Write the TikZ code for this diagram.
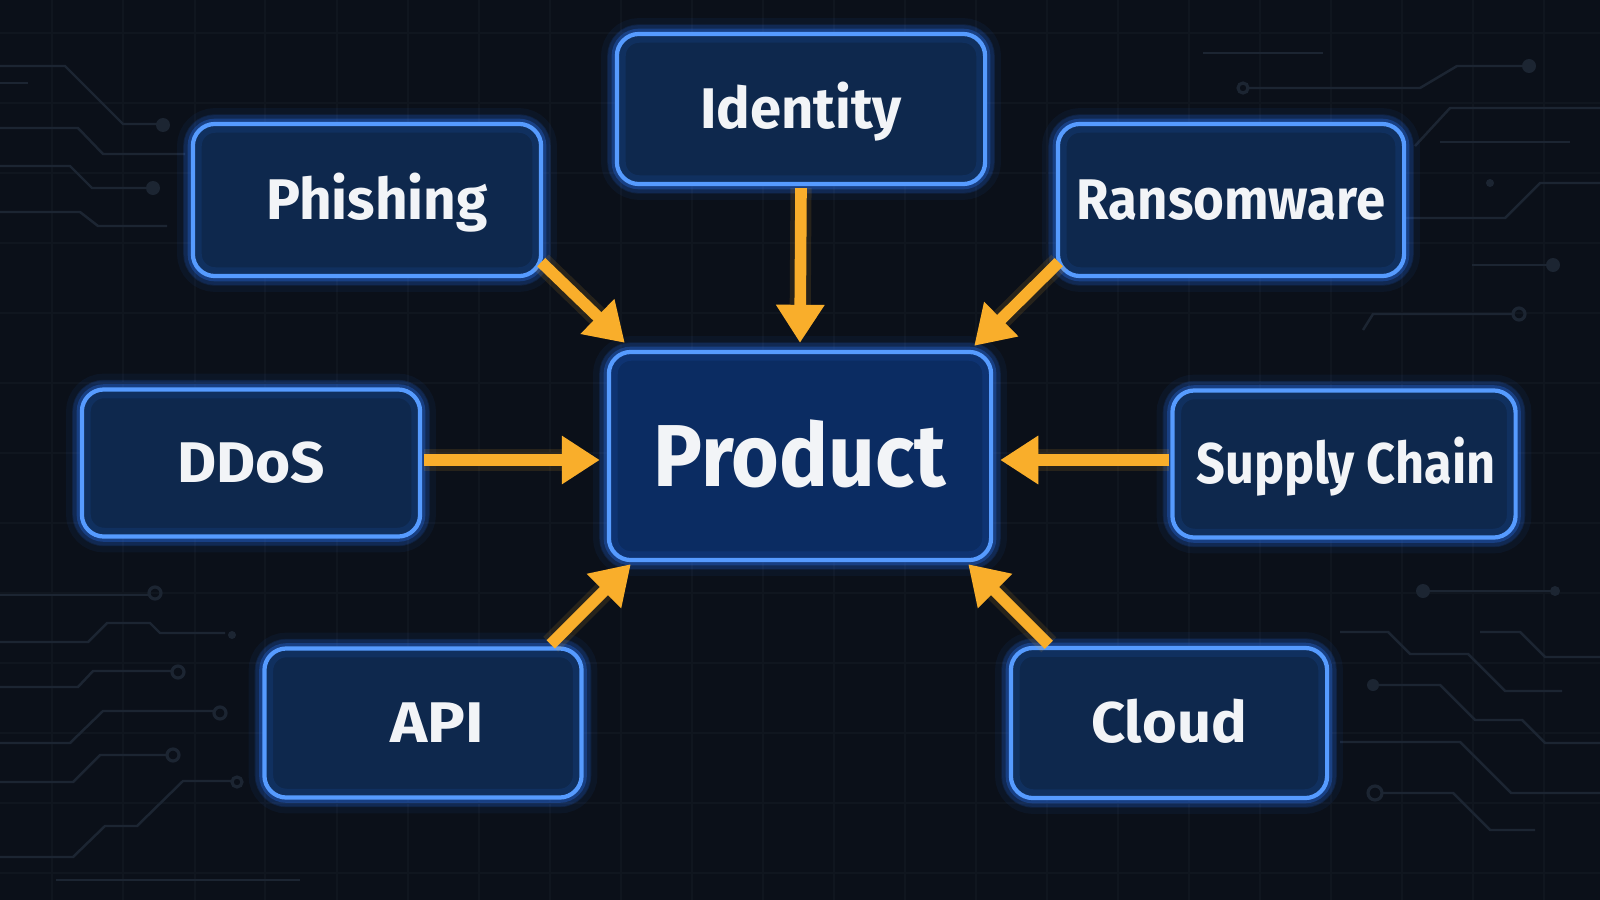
\documentclass[tikz,border=0pt]{standalone}
\usepackage{fontspec}
\usepackage{graphicx}
\setmainfont{Fira Sans}
\usetikzlibrary{arrows.meta,calc}
\definecolor{bgcol}{HTML}{0B1019}
\definecolor{gridcol}{HTML}{10161F}
\definecolor{tracecol}{HTML}{1C2532}
\definecolor{boxfill}{HTML}{0E284D}
\definecolor{prodfill}{HTML}{0B2C62}
\definecolor{boxline}{HTML}{5CA0FF}
\definecolor{glowcol}{HTML}{2A78FF}
\definecolor{arrcol}{HTML}{F9AE2B}
\definecolor{txtcol}{HTML}{F2F4F7}
\newcommand\lbl[2]{\scalebox{#1}[1]{#2}}
\tikzset{
  threatbox/.style={rectangle, rounded corners=0.22cm, fill=boxfill, draw=boxline,
    line width=1.2pt, text=txtcol, font=\fontsize{16.3}{19}\selectfont\bfseries,
    inner sep=0pt, text height=11.2pt, text depth=0pt,
    preaction={draw=glowcol, draw opacity=0.06, line width=9pt},
    preaction={draw=glowcol, draw opacity=0.12, line width=5.5pt},
    preaction={draw=glowcol, draw opacity=0.28, line width=3pt},
    postaction={draw=glowcol, draw opacity=0.10, line width=5pt}},
  centerbox/.style={threatbox, fill=prodfill, font=\fontsize{25}{29}\selectfont\bfseries,
    text height=17.2pt},
  attack/.style={draw=arrcol, line width=3.3pt,
    -{Triangle[length=0.38cm,width=0.46cm]}, fill=arrcol,
    preaction={draw=arrcol, draw opacity=0.12, line width=6pt, -{Triangle[length=0.38cm,width=0.46cm]}}},
  trace/.style={draw=tracecol, line width=0.7pt},
  tdot/.style={fill=tracecol},
  tring/.style={draw=tracecol, line width=0.9pt}
}
\begin{document}
\begin{tikzpicture}[x=0.01cm,y=-0.01cm]
\useasboundingbox (0,0) rectangle (1600,900);
\fill[bgcol] (0,0) rectangle (1600,900);
% faint grid
\foreach \gx in {52,123,195,265,337,408,479,550,621,692,763,834,905,976,1047,1118,1189,1260,1331,1402,1473,1544}
  \draw[gridcol, line width=0.4pt] (\gx,0) -- (\gx,900);
\foreach \gy in {33,103,173,243,313,383,453,523,593,663,733,803,873}
  \draw[gridcol, line width=0.4pt] (0,\gy) -- (1600,\gy);
% circuit traces left
\draw[trace] (0,66) -- (65,66) -- (123,124) -- (157,124);
\fill[tdot] (163,125) circle (7);
\draw[trace] (0,83) -- (28,83);
\draw[trace] (0,128) -- (78,128) -- (103,154) -- (185,154);
\draw[trace] (0,166) -- (70,166) -- (92,188) -- (146,188);
\fill[tdot] (153,188) circle (7);
\draw[trace] (0,212) -- (80,212) -- (98,226) -- (167,226);
\draw[trace] (0,595) -- (148,595);
\draw[tring] (155,593) circle (6);
\draw[trace] (0,642) -- (88,642) -- (107,623) -- (150,623) -- (160,633) -- (225,633);
\fill[tdot] (232,635) circle (4);
\draw[trace] (0,687) -- (78,687) -- (93,671) -- (171,671);
\draw[tring] (178,672) circle (6);
\draw[trace] (0,743) -- (70,743) -- (103,711) -- (213,711);
\draw[tring] (220,713) circle (6);
\draw[trace] (0,782) -- (73,782) -- (100,755) -- (166,755);
\draw[tring] (173,755) circle (6);
\draw[trace] (0,857) -- (73,857) -- (105,826) -- (137,826) -- (183,781) -- (231,781);
\draw[tring] (237,782) circle (5);
\draw[trace] (56,880) -- (300,880);
% circuit traces right
\draw[trace] (1203,53) -- (1323,53);
\draw[tring] (1243,88) circle (5);
\draw[trace] (1248,88) -- (1420,88) -- (1457,66) -- (1522,66);
\fill[tdot] (1529,66) circle (7);
\draw[trace] (1415,146) -- (1450,108) -- (1600,108);
\draw[trace] (1440,142) -- (1570,142);
\draw[trace] (1405,218) -- (1505,218) -- (1540,183) -- (1600,183);
\fill[tdot] (1490,183) circle (4);
\draw[trace] (1472,265) -- (1548,265);
\fill[tdot] (1553,265) circle (7);
\draw[trace] (1363,330) -- (1373,314) -- (1512,314);
\draw[tring] (1519,314) circle (6);
\fill[tdot] (1423,591) circle (7);
\draw[trace] (1423,591) -- (1555,591);
\fill[tdot] (1555,591) circle (5);
\draw[trace] (1340,632) -- (1388,632) -- (1410,654) -- (1468,654) -- (1505,691) -- (1562,691);
\draw[trace] (1480,632) -- (1520,632) -- (1545,657) -- (1600,657);
\fill[tdot] (1373,685) circle (6);
\draw[trace] (1373,685) -- (1440,685) -- (1475,720) -- (1522,720) -- (1545,743) -- (1600,743);
\draw[trace] (1340,742) -- (1460,742) -- (1511,793) -- (1600,793);
\draw[tring] (1375,793) circle (7);
\draw[trace] (1382,793) -- (1453,793) -- (1490,830) -- (1535,830);
% boxes
\node[threatbox, minimum width=3.68cm, minimum height=1.50cm] (identity) at (801,109) {\lbl{0.98}{Identity}};
\node[threatbox, minimum width=3.48cm, minimum height=1.52cm] (phishing) at (367,200) {\hspace*{0.2cm}\lbl{0.99}{Phishing}};
\node[threatbox, minimum width=3.46cm, minimum height=1.52cm] (ransom) at (1231,200) {\lbl{0.92}{Ransomware}};
\node[threatbox, minimum width=3.38cm, minimum height=1.47cm] (ddos) at (251,463) {\lbl{1.05}{DDoS}};
\node[centerbox, minimum width=3.82cm, minimum height=2.08cm] (product) at (800,456) {\lbl{0.93}{Product}};
\node[threatbox, minimum width=3.43cm, minimum height=1.47cm] (supply) at (1344,464) {\hspace*{0.04cm}\lbl{0.88}{Supply Chain}};
\node[threatbox, minimum width=3.17cm, minimum height=1.49cm] (api) at (423,723) {\hspace*{0.28cm}\lbl{1.1}{API}};
\node[threatbox, minimum width=3.16cm, minimum height=1.50cm] (cloud) at (1169,723) {\lbl{1.04}{Cloud}};
% arrows
\draw[attack] ([shift={(-2,-16)}]phishing.south east) -- ([shift={(18,-7)}]product.north west);
\draw[attack] ([shift={(0,2)}]identity.south) -- ([shift={(0,-7)}]product.north);
\draw[attack] ([shift={(3,-16)}]ransom.south west) -- ([shift={(-19,-4)}]product.north east);
\draw[attack] ([shift={(2,-3)}]ddos.east) -- ([shift={(-7,4)}]product.west);
\draw[attack] ([shift={(-1,-4)}]supply.west) -- ([shift={(7,4)}]product.east);
\draw[attack] ([shift={(-33,-2)}]api.north east) -- ([shift={(24,2)}]product.south west);
\draw[attack] ([shift={(40,-1)}]cloud.north west) -- ([shift={(-25,2)}]product.south east);
\end{tikzpicture}
\end{document}
